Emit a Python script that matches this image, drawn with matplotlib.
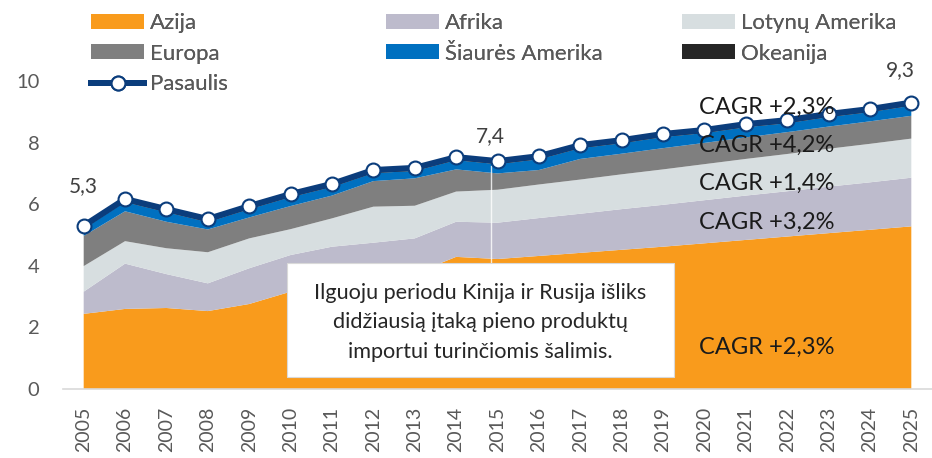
import matplotlib
matplotlib.use("Agg")
import matplotlib.pyplot as plt
from matplotlib.patches import Rectangle
from matplotlib.lines import Line2D
from matplotlib.patches import Patch
import numpy as np

plt.rcParams['font.family'] = ['Lato', 'DejaVu Sans']

years = list(range(2005, 2026))
azija = [2.44, 2.60, 2.63, 2.53, 2.76, 3.16, 3.40, 3.60, 3.75, 4.29, 4.22,
         4.32, 4.42, 4.52, 4.62, 4.73, 4.84, 4.95, 5.06, 5.17, 5.28]
afrika = [0.72, 1.47, 1.10, 0.90, 1.16, 1.19, 1.22, 1.15, 1.14, 1.14, 1.18,
          1.23, 1.27, 1.32, 1.36, 1.40, 1.44, 1.47, 1.51, 1.54, 1.58]
lotynu = [0.83, 0.73, 0.84, 1.01, 0.97, 0.84, 0.92, 1.17, 1.06, 0.98, 1.07,
          1.09, 1.11, 1.13, 1.15, 1.17, 1.19, 1.21, 1.23, 1.25, 1.27]
europa = [0.98, 0.97, 0.86, 0.74, 0.68, 0.75, 0.74, 0.83, 0.89, 0.72, 0.53,
          0.47, 0.67, 0.67, 0.69, 0.69, 0.70, 0.71, 0.72, 0.73, 0.74]
siaures = [0.23, 0.30, 0.31, 0.24, 0.27, 0.29, 0.28, 0.26, 0.24, 0.30, 0.30,
           0.35, 0.35, 0.34, 0.36, 0.32, 0.33, 0.29, 0.31, 0.30, 0.33]
okeanija = [0.10, 0.10, 0.10, 0.10, 0.10, 0.10, 0.10, 0.10, 0.10, 0.10, 0.10,
            0.10, 0.10, 0.10, 0.10, 0.10, 0.10, 0.10, 0.10, 0.10, 0.10]
pasaulis = [5.30, 6.17, 5.84, 5.52, 5.94, 6.33, 6.66, 7.11, 7.18, 7.53, 7.40,
            7.56, 7.92, 8.08, 8.28, 8.41, 8.60, 8.73, 8.93, 9.09, 9.30]

series_names = ["Azija", "Afrika", "Lotynų Amerika", "Europa",
                "Šiaurės Amerika", "Okeanija"]
series_colors = ["#F99B1C", "#BDBBCC", "#D7DEE0", "#7F7F7F", "#0070C0", "#262626"]
line_color = "#0B3D7C"

labeled_years = [2005, 2015, 2025]
cagr_labels = ["CAGR +2,3%", "CAGR +4,2%", "CAGR +1,4%", "CAGR +3,2%", "CAGR +2,3%"]
cagr_y = [9.16, 7.92, 6.69, 5.42, 1.36]
note = "Ilguoju periodu Kinija ir Rusija išliks\ndidžiausią įtaką pieno produktų\nimportui turinčiomis šalimis."

W, H = 932, 458
fig = plt.figure(figsize=(W / 100, H / 100), dpi=100)
ax = fig.add_axes([63 / W, 1 - 389 / H, (932 - 63) / W, (389 - 19.4) / H])

ax.stackplot(years, azija, afrika, lotynu, europa, siaures, okeanija,
             colors=series_colors, linewidth=0, zorder=1)
ax.plot(years, pasaulis, color=line_color, lw=4.3, marker='o', ms=10,
        mfc='white', mec=line_color, mew=1.5, zorder=5, solid_capstyle='round')

ax.set_xlim(2004.5, 2025.5)
ax.set_ylim(0, 12)
ax.set_yticks([0, 2, 4, 6, 8, 10])
ax.set_xticks(years)
ax.set_xticklabels([str(y) for y in years], rotation=90)
ax.tick_params(axis='x', length=0, pad=13, labelsize=14, labelcolor="#595959")
ax.tick_params(axis='y', length=0, pad=17, labelsize=14.5, labelcolor="#595959")
for s in ['top', 'right', 'left']:
    ax.spines[s].set_visible(False)
ax.spines['bottom'].set_color("#D9D9D9")
ax.spines['bottom'].set_linewidth(1.2)
ax.patch.set_alpha(0)

# data labels
offsets = {2005: (0, 21), 2015: (-5, 11), 2025: (-8, 16)}
for yr in labeled_years:
    v = pasaulis[years.index(yr)]
    ax.annotate(f"{v:.1f}".replace(".", ","), (yr, v), xytext=offsets[yr],
                textcoords='offset points', ha='center', va='bottom',
                fontsize=15, color="#404040", zorder=6)

# leader line
ax.plot([2014.85, 2014.85], [4.09, 7.25], color="white", lw=1.0, alpha=0.8, zorder=2)

# CAGR labels
for lab, yv in zip(cagr_labels, cagr_y):
    ax.text(2021.5, yv, lab, ha='center', va='center', fontsize=17,
            color="#1A1A1A", zorder=7)

# note box
rect = Rectangle((287 / W, 1 - 377 / H), (674 - 287) / W, (377 - 263) / H,
                 transform=fig.transFigure, facecolor='white',
                 edgecolor='#D9D9D9', lw=0.8, zorder=8)
ax.add_patch(rect)
fig.text(480.5 / W, 1 - 322.5 / H, note, ha='center', va='center',
         fontsize=15.6, color="#262626", linespacing=1.6, zorder=9)

# legends (three columns)
def patch(i):
    return Patch(facecolor=series_colors[i], edgecolor='none', label=series_names[i])

pas_handle = Line2D([0], [0], color=line_color, lw=4.3, marker='o', ms=10,
                    mfc='white', mec=line_color, mew=1.5, label="Pasaulis")
cols = [
    ([patch(0), patch(3), pas_handle], 91),
    ([patch(1), patch(4)], 386),
    ([patch(2), patch(5)], 682),
]
for handles, x0 in cols:
    leg = fig.legend(handles=handles, loc='upper left',
                     bbox_to_anchor=(x0 / W, 1 - 13 / H), frameon=False,
                     fontsize=16, labelcolor="#595959", handlelength=2.4,
                     handleheight=0.65, handletextpad=0.25, labelspacing=0.48,
                     borderpad=0, borderaxespad=0)
    fig.add_artist(leg)

fig.savefig("out.png", dpi=100, facecolor='white')
